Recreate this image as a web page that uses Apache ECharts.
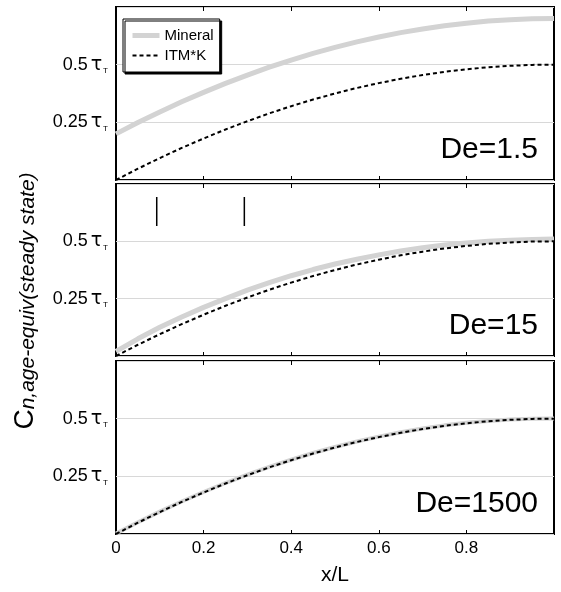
<!DOCTYPE html>
<html><head><meta charset="utf-8">
<script src="https://cdn.jsdelivr.net/npm/echarts@6/dist/echarts.min.js"></script>
<style>html,body{margin:0;padding:0;background:#fff}#c{width:561px;height:592px}</style>
</head><body><div id="c"></div>
<script>
// ---- data ----
const xValues = [0,0.05,0.1,0.15,0.2,0.25,0.3,0.35,0.4,0.45,0.5,0.55,0.6,0.65,0.7,0.75,0.8,0.85,0.9,0.95,1];
const panelLabels = ['De=1.5','De=15','De=1500'];
const seriesNames = ['Mineral','ITM*K'];
const mineral1 = [0.200,0.249,0.295,0.339,0.380,0.419,0.455,0.489,0.520,0.549,0.575,0.599,0.620,0.639,0.655,0.669,0.680,0.689,0.695,0.699,0.700];
const itmk1    = [0.000,0.049,0.095,0.139,0.180,0.219,0.255,0.289,0.320,0.349,0.375,0.399,0.420,0.439,0.455,0.469,0.480,0.489,0.495,0.499,0.500];
const mineral2 = [0.020,0.075,0.125,0.170,0.212,0.250,0.287,0.320,0.350,0.377,0.401,0.422,0.441,0.458,0.472,0.484,0.493,0.500,0.505,0.508,0.510];
const itmk2    = [0.000,0.049,0.095,0.139,0.180,0.219,0.255,0.289,0.320,0.349,0.375,0.399,0.420,0.439,0.455,0.469,0.480,0.489,0.495,0.499,0.500];
const mineral3 = [0.002,0.051,0.097,0.141,0.182,0.221,0.257,0.291,0.322,0.351,0.377,0.401,0.422,0.441,0.457,0.471,0.482,0.490,0.496,0.500,0.501];
const itmk3    = [0.000,0.049,0.095,0.139,0.180,0.219,0.255,0.289,0.320,0.349,0.375,0.399,0.420,0.439,0.455,0.469,0.480,0.489,0.495,0.499,0.500];
const markerX = [0.093, 0.293];
const markerY = [0.567, 0.693];
const xTickLabels = ['0','0.2','0.4','0.6','0.8'];
const yTickLabels = ['0.25','0.5'];

// ---- chart ----
const FONT = '"Liberation Sans", Arial, sans-serif';
const mineralData = [mineral1, mineral2, mineral3];
const itmkData = [itmk1, itmk2, itmk3];
const pair = (arr) => xValues.map((x, i) => [x, arr[i]]);

const grids = [
  {left:116, right:7, top:7,   height:173},
  {left:116, right:7, top:184, height:172},
  {left:116, right:7, top:361, height:173}
].map(g => Object.assign(g, {show:true, borderColor:'#000', borderWidth:2, backgroundColor:'transparent', containLabel:false}));

const xAxes = [], yAxes = [], series = [];
for (let i = 0; i < 3; i++) {
  xAxes.push({
    type:'value', gridIndex:i, min:0, max:1, interval:0.2, position:'bottom',
    axisLine:{show:false}, splitLine:{show:false},
    axisTick:{show:true, inside:true, length:4, lineStyle:{color:'#000', width:1}},
    axisLabel:{show: i === 2, margin:6, color:'#000', fontSize:17, fontFamily:FONT,
      formatter: v => { const k = Math.round(v * 5); return k < xTickLabels.length ? xTickLabels[k] : ''; }}
  });
  xAxes.push({
    type:'value', gridIndex:i, min:0, max:1, interval:0.2, position:'top',
    axisLine:{show:false}, splitLine:{show:false}, axisLabel:{show:false},
    axisTick:{show:true, inside:true, length:4, lineStyle:{color:'#000', width:1}}
  });
  yAxes.push({
    type:'value', gridIndex:i, min:0, max:0.75, interval:0.25,
    axisLine:{show:false}, axisTick:{show:false},
    splitLine:{show:true, lineStyle:{color:'#d8d8d8', width:1}},
    axisLabel:{show:true, margin:8, color:'#000',
      formatter: v => {
        const k = Math.round(v * 4);
        if (k === 1 || k === 2) return '{a|' + yTickLabels[k-1] + '}{b|τ}{c|T}';
        return '';
      },
      rich:{
        a:{fontSize:18, fontFamily:FONT, lineHeight:20, color:'#000'},
        b:{fontSize:19, fontFamily:'"DejaVu Sans", sans-serif', lineHeight:20, color:'#000', padding:[0,1,0,3]},
        c:{fontSize:8, fontFamily:FONT, lineHeight:8, color:'#000', verticalAlign:'bottom'}
      }
    }
  });
  series.push({
    name:seriesNames[0], type:'line', xAxisIndex:2*i, yAxisIndex:i,
    data:pair(mineralData[i]), showSymbol:false, symbol:'none', smooth:false, z:2,
    lineStyle:{color:'#d3d3d3', width: i === 2 ? 4 : 5}, itemStyle:{color:'#d3d3d3'}
  });
  series.push({
    name:seriesNames[1], type:'line', xAxisIndex:2*i, yAxisIndex:i,
    data:pair(itmkData[i]), showSymbol:false, symbol:'none', smooth:false, z:3,
    lineStyle:{color:'#000', width:2, type:[4,3]}, itemStyle:{color:'#000'}
  });
}
markerX.forEach(mx => {
  series.push({
    type:'line', xAxisIndex:2, yAxisIndex:1, showSymbol:false, symbol:'none', z:3,
    data:[[mx, markerY[0]], [mx, markerY[1]]],
    lineStyle:{color:'#000', width:1.5}
  });
});

const labelY = [150, 326, 504];
const graphic = panelLabels.map((t, i) => ({
  type:'text', x:538, y:labelY[i], z:10,
  style:{text:t, fontSize:30, fontFamily:FONT, fill:'#000', align:'right', verticalAlign:'middle'}
}));
graphic.push({
  type:'text', x:335, y:575, z:10,
  style:{text:'x/L', fontSize:21, fontFamily:FONT, fill:'#000', align:'center', verticalAlign:'middle'}
});
graphic.push({
  type:'text', x:25, y:301, rotation:Math.PI/2, z:10,
  style:{
    text:'{c|C}{s|n,age-equiv(steady state)}',
    align:'center', verticalAlign:'middle',
    rich:{
      c:{fontSize:28, fontFamily:FONT, lineHeight:28, fill:'#000', color:'#000'},
      s:{fontSize:21, fontFamily:FONT, fontStyle:'italic', lineHeight:20, fill:'#000', color:'#000', verticalAlign:'bottom'}
    }
  }
});

const chart = echarts.init(document.getElementById('c'), null, {renderer:'canvas'});
chart.setOption({
  animation:false,
  backgroundColor:'#fff',
  grid:grids, xAxis:xAxes, yAxis:yAxes, series:series, graphic:graphic,
  legend:{
    data:seriesNames, orient:'vertical', left:123, top:19,
    padding:[9,6,9,7], itemWidth:27, itemHeight:12, itemGap:5,
    textStyle:{fontSize:15, fontFamily:FONT, color:'#000'},
    itemStyle:{color:'rgba(0,0,0,0)', borderColor:'rgba(0,0,0,0)', borderWidth:0, opacity:0},
    lineStyle:{width:'inherit'},
    backgroundColor:'#fff', borderColor:'#000', borderWidth:1,
    shadowColor:'#000', shadowOffsetX:2, shadowOffsetY:2, shadowBlur:0
  }
});
</script></body></html>
